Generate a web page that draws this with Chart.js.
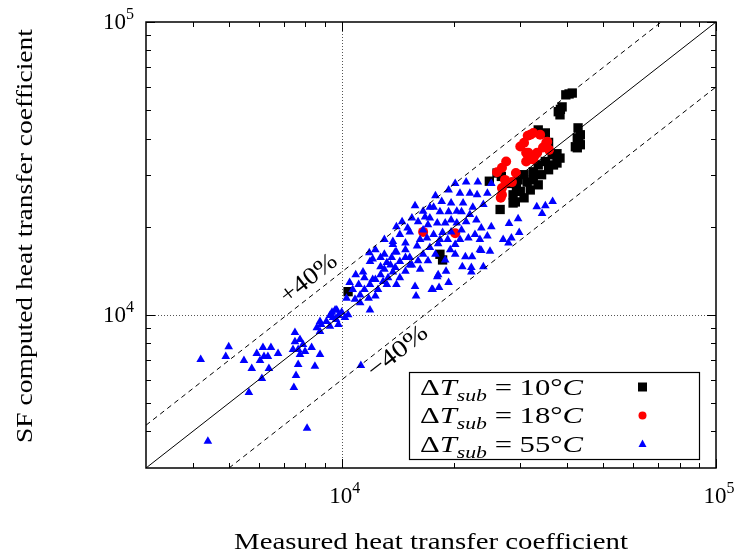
<!DOCTYPE html>
<html>
<head>
<meta charset="utf-8">
<script src="https://cdn.jsdelivr.net/npm/chart.js@4.4.1/dist/chart.umd.min.js"></script>
<style>
  html, body { margin: 0; padding: 0; background: #fff; }
</style>
</head>
<body>
<canvas id="chart" width="740" height="555"></canvas>
<script>
// axis range and ticks (both axes log, same range)
const axisMin = 3000;
const axisMax = 100000;
const majorTicks = [10000, 100000];
const majorExp = ['4', '5'];
const minorTicks = [4000, 5000, 6000, 7000, 8000, 9000, 20000, 30000, 40000, 50000, 60000, 70000, 80000, 90000];

const xTitle = 'Measured heat transfer coefficient';
const yTitle = 'SF computed heat transfer coefficient';
const seriesTemps = ['10', '18', '55'];

// reference lines: y = x, +40 %, -40 %
const parityLine = [[3000, 3000], [100000, 100000]];
const plus40Line = [[3000, 4200], [71400, 100000]];
const minus40Line = [[5000, 3000], [100000, 60000]];

// dT_sub = 10 C
const sub10 = [
  [41300, 57200], [39700, 56400], [38800, 51300], [37900, 49400], [38300, 48200],
  [42800, 43500], [43400, 41200], [42600, 40200], [43400, 38100], [42600, 37200],
  [35000, 41800], [33500, 42800], [35700, 38800], [37600, 35500], [36500, 35200],
  [38300, 34300], [35000, 33400], [36800, 32500], [33500, 32500], [35700, 31300],
  [32500, 30800], [34200, 30100], [30700, 30100], [32500, 28900], [31300, 28400],
  [29600, 28900], [33500, 27800], [31900, 26700], [30000, 26400], [28700, 25700],
  [30700, 25100], [28700, 24100], [29300, 27400], [28200, 28100], [26500, 22900],
  [26000, 30500], [26700, 29700], [18300, 16100], [18600, 15400], [10400, 12000],
  [42100, 37500], [37600, 33000], [29100, 24300], [24800, 28600], [40500, 56800],
  [38400, 50300], [43000, 39200]
];

// dT_sub = 18 C
const sub18 = [
  [32500, 41800], [31400, 40900], [30700, 38700], [30000, 37600], [35400, 39000],
  [34500, 37300], [31500, 35800], [32900, 35200], [31500, 33900], [32500, 33900],
  [27500, 33400], [26800, 31800], [26000, 30700], [27300, 28900], [28500, 28400],
  [26800, 27100], [26800, 25700], [26600, 25100], [31900, 41200], [35200, 38700],
  [31100, 35800], [33300, 35800], [31100, 33400], [29200, 30500], [27500, 28400],
  [16500, 19200], [20100, 19000], [33900, 41200], [35800, 36600]
];

// dT_sub = 55 C
const sub55 = [
  [4200, 7040], [4990, 7780], [4900, 7210], [5480, 6990], [5750, 6560],
  [5930, 7380], [6160, 7740], [6470, 7740], [6200, 7210], [6350, 7210],
  [6050, 6990], [6760, 7380], [6390, 6560], [6120, 6060], [5650, 5430],
  [4390, 3700], [8080, 4100], [7450, 5650], [7550, 6210], [7650, 6770],
  [7500, 8700], [8310, 7740], [8750, 7320], [8480, 6670], [11250, 6720],
  [7500, 8100], [7735, 8240], [7880, 7920], [7650, 7615], [7980, 7500],
  [7410, 7615], [7735, 7320],
  [8580, 9040], [8810, 9270], [9100, 9500], [8750, 8770], [9300, 9150],
  [9420, 10200], [9600, 10400], [9800, 9950], [10000, 10200], [9660, 9640],
  [9800, 9270], [9300, 9950], [10200, 9790],
  [11850, 16300], [12100, 15500], [11400, 14000], [12700, 14600], [10700, 12200],
  [10300, 11400], [11900, 10400], [11200, 11000], [10400, 10000], [14300, 13400],
  [15800, 11600], [15700, 12500], [18000, 13500], [17400, 12200], [13200, 12700],
  [13700, 14000], [12300, 11600], [11500, 13400], [12100, 13200], [9700, 10400],
  [9480, 9800], [8750, 9500], [13700, 17400], [13900, 16400], [13200, 15100],
  [10850, 11300], [11200, 11700], [11500, 12200], [11900, 12700], [12300, 13200],
  [12700, 13700], [13000, 14300], [13500, 14800], [12500, 12200], [12900, 13000],
  [11800, 11400], [11100, 12700], [13300, 13400], [13900, 14500], [14300, 15200],
  [14800, 15700], [14000, 12700], [14800, 14100], [15200, 14800], [16200, 14300],
  [21500, 28400], [20100, 28100], [25100, 28100], [20700, 26000], [22000, 26000],
  [23000, 25700], [24500, 26000], [18500, 24400], [19600, 24100], [21100, 24100],
  [15700, 23600], [16500, 22600], [17600, 23300], [18300, 22500], [19300, 22500],
  [20300, 22600], [22400, 23300], [23900, 23800], [15400, 21400], [14500, 20800],
  [17200, 21400], [18000, 20600], [18900, 20600], [20300, 20600], [21500, 20800],
  [14000, 20000], [15200, 19200], [16500, 19500], [17600, 18800], [18600, 19100],
  [19600, 19200], [13700, 17800], [14800, 17600], [15900, 17200], [17200, 17000],
  [14000, 16400], [15200, 15700], [16500, 16100], [15400, 14800], [23600, 19800],
  [24500, 18600], [23400, 18100], [21400, 15800], [22300, 15800], [23400, 16700],
  [27900, 17600], [27000, 18100], [23900, 14600], [22200, 14500], [21000, 14600],
  [25100, 20000],
  [23600, 16600], [24900, 16500], [22200, 14000], [19000, 14100], [18100, 13700],
  [19300, 12900], [18200, 12400], [17500, 12200], [28400, 18300], [29800, 19100],
  [36600, 24400], [35000, 23600], [33200, 23400], [34300, 22200], [29600, 21300],
  [28000, 20500], [16700, 21600], [17200, 23300],
  [17000, 20300], [18300, 18100], [20100, 17400], [19500, 16700], [20700, 18100],
  [16200, 18100], [17800, 16100], [16000, 15300], [13000, 16100], [18900, 15400],
  [20900, 19500], [22700, 18800], [22000, 22000], [13000, 18100], [12300, 16700],
  [11900, 15200],
  [14300, 18800], [15000, 19800], [16000, 20800], [16900, 18300], [18100, 17500],
  [19200, 18100], [19600, 21100], [20900, 22500], [22900, 21100], [21800, 18300],
  [20100, 16100], [17000, 15300], [14800, 16700], [13600, 15700], [12700, 15700],
  [17800, 25500], [19300, 26700], [23100, 28400], [10900, 13700], [10500, 12900]
];

const toXY = pairs => pairs.map(p => ({ x: p[0], y: p[1] }));
const serif = '"Liberation Serif", "DejaVu Serif", serif';

// draw text pieces (normal / italic / sub / sup) stretched to a target width
function drawPieces(ctx, pieces, x, y, targetW, align) {
  let total = 0;
  pieces.forEach(p => {
    ctx.font = (p.italic ? 'italic ' : '') + p.size + 'px ' + serif;
    p.w = ctx.measureText(p.t).width;
    total += p.w;
  });
  const sx = targetW ? targetW / total : 1;
  const w = total * sx;
  let start = x;
  if (align === 'center') start = x - w / 2;
  if (align === 'right') start = x - w;
  ctx.save();
  ctx.translate(start, y);
  ctx.scale(sx, 1);
  ctx.textAlign = 'left';
  ctx.textBaseline = 'alphabetic';
  let cx = 0;
  pieces.forEach(p => {
    ctx.font = (p.italic ? 'italic ' : '') + p.size + 'px ' + serif;
    ctx.fillText(p.t, cx, p.dy || 0);
    cx += p.w;
  });
  ctx.restore();
}

function drawRotated(ctx, text, cx, cy, angle, size, targetW) {
  ctx.save();
  ctx.translate(cx, cy);
  ctx.rotate(angle);
  ctx.font = size + 'px ' + serif;
  const w = ctx.measureText(text).width;
  ctx.scale(targetW / w, 1);
  ctx.textAlign = 'center';
  ctx.textBaseline = 'middle';
  ctx.fillText(text, 0, 0);
  ctx.restore();
}

const gnuplotLook = {
  id: 'gnuplotLook',
  beforeDatasetsDraw(chart) {
    const { ctx, chartArea: a, scales: { x, y } } = chart;
    ctx.save();
    ctx.strokeStyle = '#555';
    ctx.lineWidth = 1;
    ctx.setLineDash([1, 2]);
    const gx = Math.round(x.getPixelForValue(majorTicks[0])) + 0.5;
    const gy = Math.round(y.getPixelForValue(majorTicks[0])) + 0.5;
    ctx.beginPath();
    ctx.moveTo(gx, a.top); ctx.lineTo(gx, a.bottom);
    ctx.moveTo(a.left, gy); ctx.lineTo(a.right, gy);
    ctx.stroke();
    ctx.restore();
  },
  afterDraw(chart) {
    const { ctx, chartArea: a, scales: { x, y } } = chart;
    ctx.save();
    ctx.fillStyle = '#000';
    ctx.strokeStyle = '#000';

    // ticks on all four sides, pointing inward
    ctx.lineWidth = 1;
    ctx.beginPath();
    const tick = (v, len) => {
      const px = Math.round(x.getPixelForValue(v)) + 0.5;
      const py = Math.round(y.getPixelForValue(v)) + 0.5;
      ctx.moveTo(px, a.bottom); ctx.lineTo(px, a.bottom - len);
      ctx.moveTo(px, a.top); ctx.lineTo(px, a.top + len);
      ctx.moveTo(a.left, py); ctx.lineTo(a.left + len, py);
      ctx.moveTo(a.right, py); ctx.lineTo(a.right - len, py);
    };
    minorTicks.forEach(v => tick(v, 5));
    majorTicks.forEach(v => tick(v, 9));
    ctx.stroke();

    // frame
    ctx.lineWidth = 1.5;
    ctx.strokeRect(a.left, a.top, a.right - a.left, a.bottom - a.top);

    // tick labels 10^n
    majorTicks.forEach((v, i) => {
      const pieces = [
        { t: '10', size: 23 },
        { t: majorExp[i], size: 16, dy: -10 }
      ];
      drawPieces(ctx, pieces, x.getPixelForValue(v) + 3, 503, 0, 'center');
      drawPieces(ctx, pieces.map(p => ({ ...p })), 134, y.getPixelForValue(v) + 7, 0, 'right');
    });

    // axis titles
    drawPieces(ctx, [{ t: xTitle, size: 24 }], (a.left + a.right) / 2, 549, 394, 'center');
    ctx.save();
    ctx.translate(32, 236);
    ctx.rotate(-Math.PI / 2);
    drawPieces(ctx, [{ t: yTitle, size: 24 }], 0, 0, 414, 'center');
    ctx.restore();

    // labels on the +/-40 % lines
    const ang = -Math.atan(293.3 / 374);
    drawRotated(ctx, '+40%', 309, 279, ang, 24, 66);
    drawRotated(ctx, '\u221240%', 398, 352, ang, 24, 70);

    // legend box
    ctx.fillStyle = '#fff';
    ctx.fillRect(409.5, 372.5, 290, 87);
    ctx.fillStyle = '#000';
    ctx.lineWidth = 1.2;
    ctx.strokeRect(409.5, 372.5, 290, 87);
    const rowY = [387, 415.5, 444];
    const colors = ['#000000', '#ff0000', '#0000ff'];
    seriesTemps.forEach((t, i) => {
      drawPieces(ctx, [
        { t: '\u0394', size: 24 },
        { t: 'T', size: 24, italic: true },
        { t: 'sub', size: 17, italic: true, dy: 6 },
        { t: ' = ' + t + '\u00b0', size: 24 },
        { t: 'C', size: 24, italic: true }
      ], 420, rowY[i] + 7.5, 163, 'left');
      ctx.fillStyle = colors[i];
      const mx = 642.5, my = rowY[i];
      ctx.beginPath();
      if (i === 0) {
        ctx.rect(mx - 4.5, my - 4.5, 9, 9);
      } else if (i === 1) {
        ctx.arc(mx, my, 4, 0, Math.PI * 2);
      } else {
        ctx.moveTo(mx, my - 4.5);
        ctx.lineTo(mx + 4, my + 3);
        ctx.lineTo(mx - 4, my + 3);
        ctx.closePath();
      }
      ctx.fill();
      ctx.fillStyle = '#000';
    });
    ctx.restore();
  }
};

const lineStyle = (data, dash) => ({
  type: 'line',
  data: toXY(data),
  showLine: true,
  borderColor: '#000',
  borderWidth: 1,
  borderDash: dash,
  pointRadius: 0,
  fill: false,
  order: 0
});

new Chart(document.getElementById('chart'), {
  type: 'scatter',
  data: {
    datasets: [
      lineStyle(parityLine, []),
      lineStyle(plus40Line, [5, 4]),
      lineStyle(minus40Line, [5, 4]),
      {
        label: '55',
        data: toXY(sub55),
        pointStyle: 'triangle',
        pointRadius: 5,
        backgroundColor: '#0000ff',
        borderWidth: 0,
        order: 1
      },
      {
        label: '18',
        data: toXY(sub18),
        pointStyle: 'circle',
        pointRadius: 5,
        backgroundColor: '#ff0000',
        borderWidth: 0,
        order: 2
      },
      {
        label: '10',
        data: toXY(sub10),
        pointStyle: 'rect',
        pointRadius: 6.6,
        backgroundColor: '#000000',
        borderWidth: 0,
        order: 3
      }
    ]
  },
  options: {
    responsive: false,
    animation: false,
    devicePixelRatio: 1,
    layout: { padding: { left: 146, right: 24, top: 22, bottom: 87 } },
    plugins: { legend: { display: false }, tooltip: { enabled: false } },
    scales: {
      x: { type: 'logarithmic', min: axisMin, max: axisMax, display: false },
      y: { type: 'logarithmic', min: axisMin, max: axisMax, display: false }
    }
  },
  plugins: [gnuplotLook]
});
</script>
</body>
</html>
